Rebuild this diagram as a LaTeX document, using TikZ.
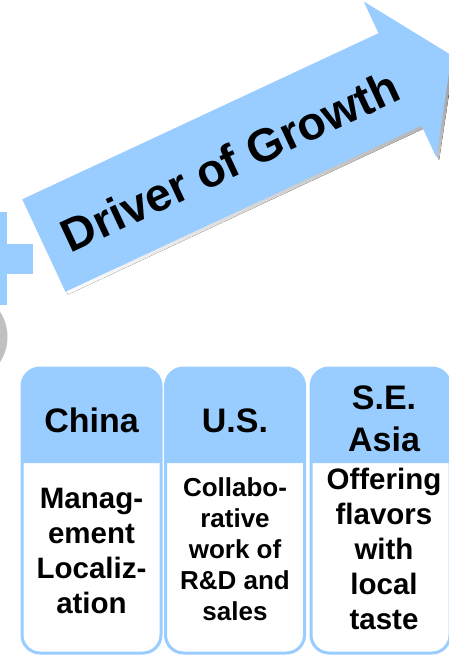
\documentclass[tikz,border=0pt]{standalone}
\usepackage{fontspec}
\setmainfont{Liberation Sans}

\definecolor{skyblue}{HTML}{99CCFF}
\definecolor{shade}{HTML}{A6A6A6}
\definecolor{ring}{HTML}{C0C0C0}

\newcommand{\arrowoutline}{(0,0) -- (393,0) -- (393,-35) -- (450,51) -- (393,137) -- (393,102) -- (0,102) -- cycle}

\tikzset{
  region/.style={draw=skyblue, line width=3pt, fill=white, rounded corners=18pt},
  header/.style={font=\bfseries\fontsize{34}{41.7}\selectfont, align=center, inner sep=0pt},
  detail/.style={font=\bfseries\fontsize{29.5}{35}\selectfont, align=center, inner sep=0pt},
  detailsmall/.style={font=\bfseries\fontsize{26}{31}\selectfont, align=center, inner sep=0pt}
}

\begin{document}
\begin{tikzpicture}[x=1pt, y=-1pt]
\useasboundingbox (0,0) rectangle (449,655);

\fill[ring] (-39,337) circle [radius=46.5pt];
\fill[skyblue] (-23,212) rectangle (7,305);
\fill[skyblue] (-48,244) rectangle (33,274);

\fill[shade, shift={(25,202)}, rotate=25] \arrowoutline;
\fill[skyblue, shift={(22.3,199.3)}, rotate=25] \arrowoutline;
\node[rotate=25, anchor=base, font=\bfseries\fontsize{46.5}{55}\selectfont] (driver) at (237,176) {Driver of Growth};

\foreach \x in {22,165.5,311} {
  \draw[region] (\x,368) rectangle ++(139,285);
  \fill[skyblue, rounded corners=18pt] (\x,463) -- (\x,368) -- (\x+139,368) -- (\x+139,463);
}

\node[header, anchor=base] (china) at (91.5,432.7) {China};
\node[header, anchor=base] (us) at (235,432) {U.S.};
\node[header] (seasia) at (384,418.7) {S.E.\\Asia};

\node[detail] (management) at (91.5,551) {Manag-\\ement\\Localiz-\\ation};
\node[detailsmall] (collab) at (235,549.5) {Collabo-\\rative\\work of\\R\&D and\\sales};
\node[detail] (flavors) at (384,549.3) {Offering\\flavors\\with\\local\\taste};
\end{tikzpicture}
\end{document}
